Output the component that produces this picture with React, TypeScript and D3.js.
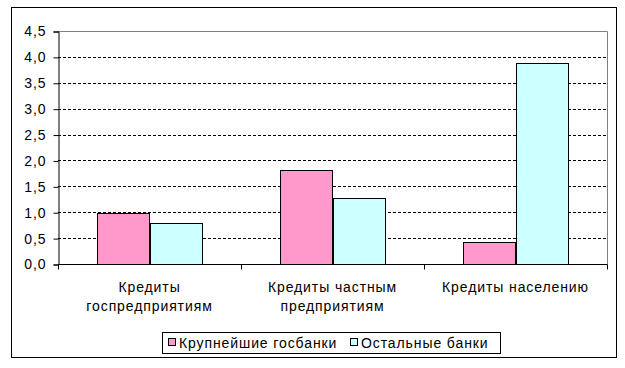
import React, { useEffect, useRef } from "react";
import * as d3 from "d3";

const categories = [
  ["Кредиты", "госпредприятиям"],
  ["Кредиты частным", "предприятиям"],
  ["Кредиты населению"],
];
const seriesNames = ["Крупнейшие госбанки", "Остальные банки"];
const seriesColors = ["#FF99CC", "#CCFFFF"];
const stateBanks = [0.98, 1.81, 0.42];
const otherBanks = [0.8, 1.27, 3.89];
const yTicks = [0, 0.5, 1, 1.5, 2, 2.5, 3, 3.5, 4, 4.5];

const W = 625;
const H = 368;

function App() {
  const svgRef = useRef<SVGSVGElement>(null);

  useEffect(() => {
    const svg = d3.select(svgRef.current);
    svg.selectAll("*").remove();

    const font = "Liberation Sans, Arial, sans-serif";
    const fs = 14;
    const ls = 0.9;
    const left = 58, right = 607, top = 31, bottom = 264;

    // outer frame
    svg.append("rect")
      .attr("x", 11.5).attr("y", 7.5)
      .attr("width", 605).attr("height", 350)
      .attr("fill", "white").attr("stroke", "black");

    const x = d3.scaleBand<number>()
      .domain(d3.range(categories.length))
      .range([left, right]);
    const sub = d3.scaleBand<number>()
      .domain([0, 1])
      .range([0, x.bandwidth()])
      .paddingInner(0)
      .paddingOuter(0.75);
    const y = d3.scaleLinear().domain([0, 4.5]).range([bottom, top]);

    // gridlines
    svg.append("g").selectAll("line")
      .data(yTicks.filter(t => t > 0 && t < 4.5)).enter().append("line")
      .attr("x1", left).attr("x2", right)
      .attr("y1", d => Math.round(y(d)) + 0.5)
      .attr("y2", d => Math.round(y(d)) + 0.5)
      .attr("stroke", "black")
      .attr("stroke-dasharray", "3,2");

    // plot border top/right gray
    svg.append("path")
      .attr("d", `M${left},${top + 0.5}H${right + 0.5}V${bottom}`)
      .attr("fill", "none").attr("stroke", "#808080");

    const data = [stateBanks, otherBanks];
    data.forEach((vals, si) => {
      svg.append("g").selectAll("rect")
        .data(vals).enter().append("rect")
        .attr("x", (d, i) => Math.round((x(i) as number) + (sub(si) as number)) + 0.5)
        .attr("y", d => Math.round(y(d)) + 0.5)
        .attr("width", Math.round(sub.bandwidth()))
        .attr("height", d => bottom - Math.round(y(d)))
        .attr("fill", seriesColors[si])
        .attr("stroke", "black");
    });

    // y axis
    const yAxis = svg.append("g")
      .attr("transform", `translate(${left + 0.5},0.5)`)
      .call(d3.axisLeft(y).tickValues(yTicks).tickSize(5)
        .tickFormat(d => d3.format(".1f")(d as number).replace(".", ",")));
    yAxis.select(".domain").attr("stroke", "black");
    yAxis.selectAll("text")
      .attr("font-family", font).attr("font-size", fs)
      .attr("letter-spacing", ls)
      .attr("fill", "black").attr("x", -12);

    // x axis
    const xAxis = svg.append("g")
      .attr("transform", `translate(0,${bottom + 0.5})`);
    xAxis.append("line")
      .attr("x1", left).attr("x2", right + 0.5)
      .attr("stroke", "black");
    xAxis.selectAll("line.tick")
      .data(d3.range(categories.length + 1)).enter().append("line")
      .attr("class", "tick")
      .attr("x1", i => Math.round(left + i * x.step()) + 0.5)
      .attr("x2", i => Math.round(left + i * x.step()) + 0.5)
      .attr("y1", 0).attr("y2", 5)
      .attr("stroke", "black");

    categories.forEach((lines, i) => {
      const cx = (x(i) as number) + x.bandwidth() / 2;
      const t = svg.append("text")
        .attr("x", cx).attr("y", 292)
        .attr("text-anchor", "middle")
        .attr("font-family", font).attr("font-size", fs)
        .attr("letter-spacing", ls);
      lines.forEach((l, j) => {
        t.append("tspan").attr("x", cx).attr("dy", j === 0 ? 0 : 19).text(l);
      });
    });

    // legend
    const lg = svg.append("g");
    lg.append("rect")
      .attr("x", 162.5).attr("y", 332.5)
      .attr("width", 338).attr("height", 21)
      .attr("fill", "white").attr("stroke", "black");
    const legendX = [168, 350];
    seriesNames.forEach((name, i) => {
      lg.append("rect")
        .attr("x", legendX[i] + 0.5).attr("y", 338.5)
        .attr("width", 7).attr("height", 7)
        .attr("fill", seriesColors[i]).attr("stroke", "black");
      lg.append("text")
        .attr("x", legendX[i] + 11).attr("y", 348)
        .attr("font-family", font).attr("font-size", fs)
        .attr("letter-spacing", ls)
        .text(name);
    });
  }, []);

  return (
    <svg ref={svgRef} width={W} height={H}
      style={{ position: "absolute", left: 0, top: 0, background: "white" }} />
  );
}

export default App;
